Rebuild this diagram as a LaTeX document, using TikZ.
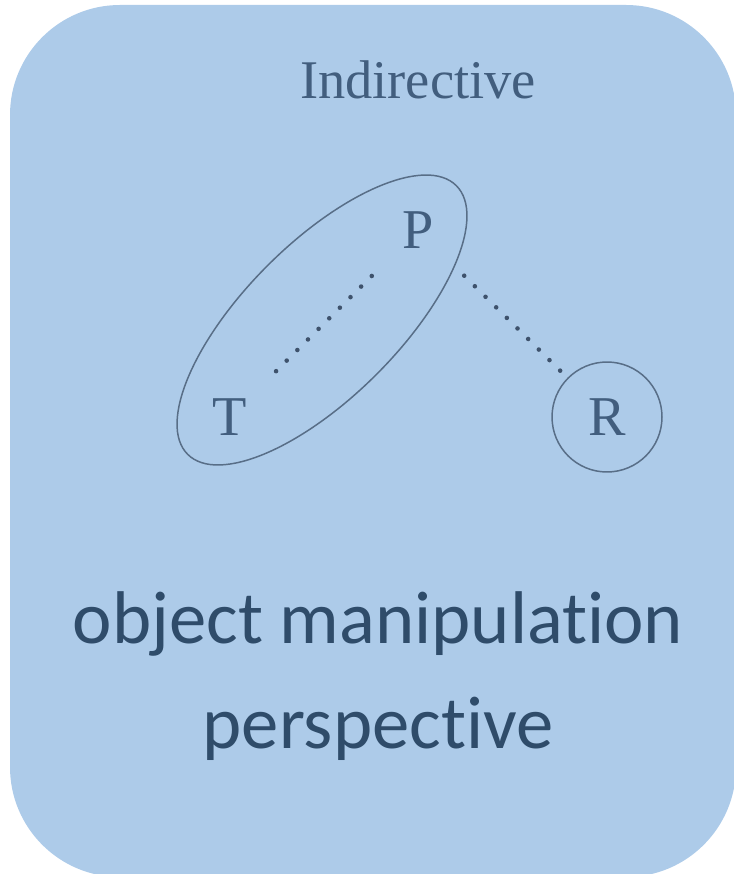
\documentclass[tikz,border=0pt]{standalone}
\usepackage{fontspec}
\usetikzlibrary{shapes.geometric, positioning}
\newfontfamily\capfont[Ligatures=NoCommon]{Carlito}
\newfontfamily\rolefont{Liberation Serif}
\definecolor{boxblue}{RGB}{173,203,233}
\definecolor{inkblue}{RGB}{66,94,126}
\definecolor{lineblue}{RGB}{88,110,135}
\definecolor{dotblue}{RGB}{62,82,108}
\definecolor{capblue}{RGB}{47,76,106}

\begin{document}
\begin{tikzpicture}[x=0.02cm, y=-0.02cm,
    role/.style={inner sep=0pt, text=inkblue, font=\rolefont\fontsize{32}{32}\selectfont},
    grp/.style={draw=lineblue, line width=0.85pt, inner sep=0pt},
    dots/.style={dotblue, line width=2.6pt, line cap=round, dash pattern=on 0pt off 0.3cm,
                 shorten <=1.3cm, shorten >=1.3cm}]
  \useasboundingbox (0,0) rectangle (733,874);
  \fill[boxblue, rounded corners=2.2cm] (10,5) rectangle (736,877);
  \node[text=inkblue, font=\rolefont\fontsize{31}{31}\selectfont] (title) at (418,80) {Indirective};
  \node[role] (P) at (418,230) {P};
  \node[role] (T) at (230,417) {T};
  \node[role, grp, circle, minimum size=2.2cm] (R) at (607,417) {R};
  \node[grp, ellipse, rotate=45, minimum width=7.6cm, minimum height=3.08cm] (TP) at (322,320) {};
  \draw[dots] (T.center) -- (P.center);
  \draw[dots] (P.center) -- (R.center);
  \node[align=center, text=capblue, font=\capfont\fontsize{42.5}{60}\selectfont] (cap) at (378,676)
    {object manipulation\\perspective};
\end{tikzpicture}
\end{document}
